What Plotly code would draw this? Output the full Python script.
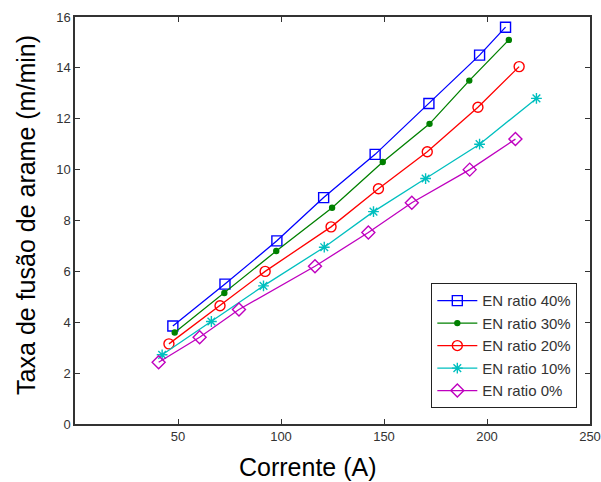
import plotly.graph_objects as go

# Data
x40 = [47.5, 72.8, 98.0, 120.7, 145.7, 171.8, 196.4, 209.0]
y40 = [3.85, 5.5, 7.2, 8.9, 10.6, 12.6, 14.5, 15.6]
x30 = [48.4, 72.5, 97.7, 124.8, 149.4, 172.1, 191.4, 210.6]
y30 = [3.6, 5.15, 6.8, 8.5, 10.3, 11.8, 13.5, 15.1]
x20 = [45.6, 70.4, 92.3, 124.3, 147.3, 171.0, 195.6, 215.6]
y20 = [3.15, 4.65, 6.0, 7.75, 9.25, 10.7, 12.45, 14.05]
x10 = [42.3, 66.2, 91.5, 121.0, 144.9, 170.2, 196.4, 224.0]
y10 = [2.72, 4.03, 5.43, 6.95, 8.35, 9.65, 11.0, 12.8]
x0 = [40.6, 60.5, 79.6, 116.5, 142.4, 163.5, 191.6, 213.8]
y0 = [2.43, 3.41, 4.5, 6.2, 7.53, 8.7, 10.0, 11.2]

names = ["EN ratio 40%", "EN ratio 30%", "EN ratio 20%", "EN ratio 10%", "EN ratio 0%"]
x_ticks = [50, 100, 150, 200, 250]
y_ticks = [0, 2, 4, 6, 8, 10, 12, 14, 16]
x_title = "Corrente (A)"
y_title = "Taxa de fusão de arame (m/min)"

series = [
    (x40, y40, names[0], "#0000ff", "square-open", 10),
    (x30, y30, names[1], "#008000", "circle", 5),
    (x20, y20, names[2], "#ff0000", "circle-open", 10),
    (x10, y10, names[3], "#00bfbf", "asterisk-open", 9),
    (x0, y0, names[4], "#bf00bf", "diamond-open", 10),
]

fig = go.Figure()
for xs, ys, nm, col, sym, sz in series:
    fig.add_trace(go.Scatter(
        x=xs, y=ys, name=nm, mode="lines+markers",
        line=dict(color=col, width=1.3),
        marker=dict(symbol=sym, size=sz, color=col, line=dict(color=col, width=1.4)),
    ))

axis_common = dict(
    showline=True, linecolor="#333333", linewidth=1.5, mirror="ticks",
    ticks="inside", ticklen=5, tickcolor="#333333", tickwidth=1.2,
    showgrid=False, zeroline=False, automargin=False,
    tickfont=dict(family="Liberation Sans, Arial, sans-serif", size=13, color="#333333"),
)

fig.update_layout(
    width=601, height=482,
    margin=dict(l=75, r=11, t=17, b=58),
    paper_bgcolor="white", plot_bgcolor="white",
    font=dict(family="Liberation Sans, Arial, sans-serif", color="black"),
    xaxis=dict(range=[0, 250], tickvals=x_ticks, **axis_common),
    yaxis=dict(range=[0, 16], tickvals=y_ticks, **axis_common),
    legend=dict(x=0.975, y=0.039, xanchor="right", yanchor="bottom",
                bordercolor="#222222", borderwidth=1.2, bgcolor="white",
                font=dict(size=15, color="#333333"), tracegroupgap=0,
                itemwidth=40),
    showlegend=True,
    annotations=[
        dict(text=x_title, xref="paper", yref="paper", x=0.452, y=-0.106,
             xanchor="center", yanchor="middle", showarrow=False,
             font=dict(size=25, color="black")),
        dict(text=y_title, xref="paper", yref="paper", x=-0.095, y=0.514,
             xanchor="center", yanchor="middle", showarrow=False, textangle=-90,
             font=dict(size=25, color="black")),
    ],
)

fig.write_html("out.html")
